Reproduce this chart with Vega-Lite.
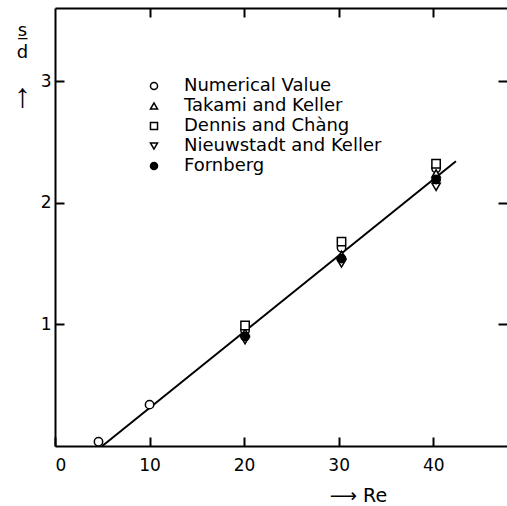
{
  "$schema": "https://vega.github.io/schema/vega-lite/v6.json",
  "autosize": "none",
  "padding": {"left": 55, "top": 8, "right": 0, "bottom": 60},
  "width": 452,
  "height": 438,
  "background": "white",
  "config": {
    "view": {"stroke": null},
    "font": "DejaVu Sans",
    "axis": {
      "domainColor": "black", "domainWidth": 2, "tickColor": "black", "tickWidth": 2,
      "labelColor": "black", "labelFont": "DejaVu Sans", "labelFontSize": 17,
      "titleColor": "black", "titleFont": "DejaVu Sans", "titleFontWeight": "normal",
      "grid": false, "tickSize": -9
    }
  },
  "datasets": {
    "fit": [
      {"Re": 5.0, "sd": 0.0},
      {"Re": 42.4, "sd": 2.34}
    ],
    "pts": [
      {"Re": 4.6, "sd": 0.035, "source": "Numerical Value"},
      {"Re": 10.0, "sd": 0.34, "source": "Numerical Value"},
      {"Re": 20.1, "sd": 0.95, "source": "Numerical Value"},
      {"Re": 30.3, "sd": 1.63, "source": "Numerical Value"},
      {"Re": 40.3, "sd": 2.28, "source": "Numerical Value"},
      {"Re": 20.1, "sd": 0.93, "source": "Takami and Keller"},
      {"Re": 30.3, "sd": 1.57, "source": "Takami and Keller"},
      {"Re": 40.3, "sd": 2.24, "source": "Takami and Keller"},
      {"Re": 20.1, "sd": 0.99, "source": "Dennis and Chàng"},
      {"Re": 30.3, "sd": 1.68, "source": "Dennis and Chàng"},
      {"Re": 40.3, "sd": 2.32, "source": "Dennis and Chàng"},
      {"Re": 20.1, "sd": 0.87, "source": "Nieuwstadt and Keller"},
      {"Re": 30.3, "sd": 1.50, "source": "Nieuwstadt and Keller"},
      {"Re": 40.3, "sd": 2.13, "source": "Nieuwstadt and Keller"},
      {"Re": 20.1, "sd": 0.90, "source": "Fornberg"},
      {"Re": 30.3, "sd": 1.54, "source": "Fornberg"},
      {"Re": 40.3, "sd": 2.19, "source": "Fornberg"}
    ]
  },
  "layer": [
    {
      "data": {"name": "fit"},
      "mark": {"type": "line", "color": "black", "strokeWidth": 2},
      "encoding": {
        "x": {"field": "Re", "type": "quantitative", "scale": {"domain": [0, 47.8], "nice": false, "zero": false},
          "axis": {"orient": "bottom", "values": [0, 10, 20, 30, 40], "labelPadding": 20,
            "title": "⟶  Re", "titleFontSize": 19, "titleX": 303, "titleY": 49, "titleAlign": "center", "titleBaseline": "middle"}},
        "y": {"field": "sd", "type": "quantitative", "scale": {"domain": [0, 3.6], "nice": false, "zero": false},
          "axis": {"orient": "left", "values": [1, 2, 3], "labelPadding": 13,
            "title": ["s̲", "d"], "titleFontSize": 18, "titleLineHeight": 22, "titleAngle": 0,
            "titleX": -33, "titleY": 13, "titleAlign": "center", "titleBaseline": "top"}}
      }
    },
    {
      "data": {"name": "fit"},
      "mark": {"type": "line", "strokeOpacity": 0},
      "encoding": {
        "x": {"field": "Re", "type": "quantitative", "axis": null},
        "y": {"field": "sd", "type": "quantitative",
          "axis": {"orient": "left", "values": [], "labels": false, "ticks": false, "domain": false,
            "title": "↑", "titleFont": "Liberation Sans", "titleFontSize": 34, "titleAngle": 0,
            "titleX": -33, "titleY": 88, "titleAlign": "center", "titleBaseline": "middle"}}
      }
    },
    {
      "data": {"name": "pts"},
      "mark": {"type": "point", "filled": true, "stroke": "black", "strokeWidth": 1.5, "size": 70, "opacity": 1},
      "encoding": {
        "x": {"field": "Re", "type": "quantitative", "axis": {"orient": "top", "values": [10, 20, 30, 40], "labels": false, "title": null}},
        "y": {"field": "sd", "type": "quantitative", "axis": {"orient": "right", "values": [1, 2, 3], "labels": false, "title": null, "domain": false}},
        "shape": {"field": "source", "type": "nominal",
          "scale": {"domain": ["Numerical Value", "Takami and Keller", "Dennis and Chàng", "Nieuwstadt and Keller", "Fornberg"],
            "range": ["circle", "triangle-up", "square", "triangle-down", "circle"]},
          "legend": {"orient": "none", "legendX": 90, "legendY": 69, "title": null, "labelFontSize": 18, "labelColor": "black",
            "labelFont": "DejaVu Sans", "labelOffset": 21, "labelLimit": 400, "rowPadding": 2, "symbolSize": 50,
            "encode": {"symbols": {"update": {"stroke": {"value": "black"}, "strokeWidth": {"value": 1.5}}}}}},
        "fill": {"field": "source", "type": "nominal",
          "scale": {"domain": ["Numerical Value", "Takami and Keller", "Dennis and Chàng", "Nieuwstadt and Keller", "Fornberg"],
            "range": ["white", "white", "white", "white", "black"]},
          "legend": {"orient": "none", "legendX": 90, "legendY": 69, "title": null, "labelFontSize": 18, "labelColor": "black",
            "labelFont": "DejaVu Sans", "labelOffset": 21, "labelLimit": 400, "rowPadding": 2, "symbolSize": 50,
            "encode": {"symbols": {"update": {"stroke": {"value": "black"}, "strokeWidth": {"value": 1.5}}}}}}
      }
    }
  ],
  "resolve": {"axis": {"x": "independent", "y": "independent"}}
}
